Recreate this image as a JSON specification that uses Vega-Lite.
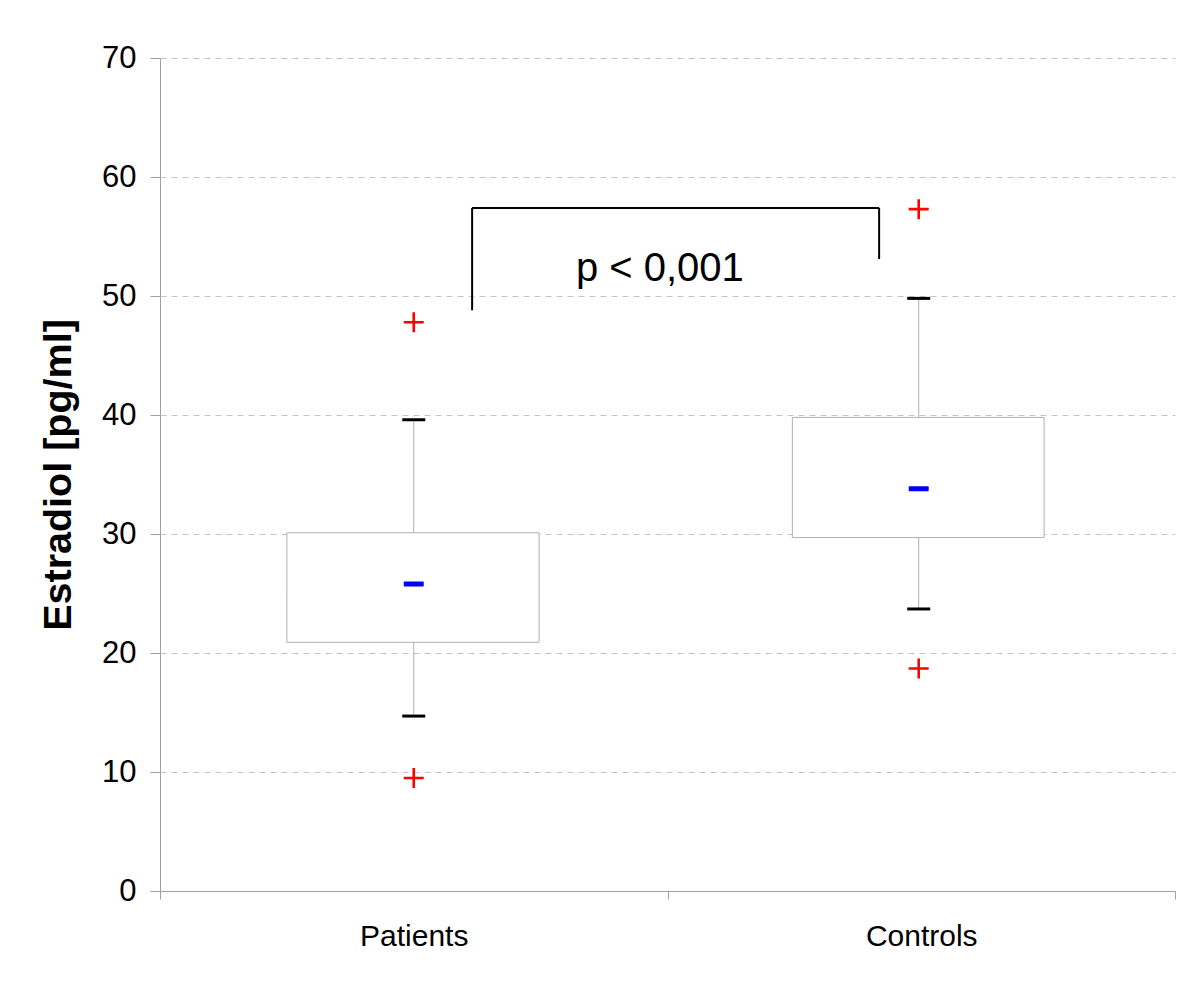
{
  "$schema": "https://vega.github.io/schema/vega-lite/v6.json",
  "width": 1015,
  "height": 833,
  "autosize": {"type": "none"},
  "padding": {"left": 160, "top": 58, "right": 25, "bottom": 107},
  "background": "white",
  "config": {
    "view": {"stroke": null},
    "font": "Liberation Sans"
  },
  "datasets": {
    "boxes": [
      {"group": "Patients", "x": 0.5, "x0": 0.25, "x1": 0.747, "q1": 20.9, "q3": 30.1, "median": 25.8, "lo": 14.7, "hi": 39.6},
      {"group": "Controls", "x": 1.495, "x0": 1.246, "x1": 1.742, "q1": 29.7, "q3": 39.8, "median": 33.8, "lo": 23.7, "hi": 49.8}
    ],
    "outliers": [
      {"group": "Patients", "x": 0.5, "y": 47.8},
      {"group": "Patients", "x": 0.5, "y": 9.5},
      {"group": "Controls", "x": 1.495, "y": 57.3},
      {"group": "Controls", "x": 1.495, "y": 18.7}
    ],
    "bracket": [
      {"x": 0.615, "x2": 0.615, "y": 48.8, "y2": 57.4},
      {"x": 0.615, "x2": 1.417, "y": 57.4, "y2": 57.4},
      {"x": 1.417, "x2": 1.417, "y": 53.1, "y2": 57.4}
    ],
    "label": [
      {"x": 0.985, "y": 51.3, "text": "p < 0,001"}
    ]
  },
  "layer": [
    {
      "data": {"name": "boxes"},
      "mark": {"type": "rule", "color": "#b0b0b0", "strokeWidth": 1},
      "encoding": {
        "x": {
          "field": "x", "type": "quantitative",
          "scale": {"domain": [0, 2], "nice": false, "zero": false},
          "axis": {
            "values": [0, 0.5, 1, 1.5, 2],
            "labelExpr": "datum.value == 0.5 ? 'Patients' : (datum.value == 1.5 ? 'Controls' : '')",
            "title": null,
            "grid": false,
            "domainColor": "#a0a0a0",
            "domainWidth": 1,
            "tickColor": "#a0a0a0",
            "tickSize": 8,
            "tickOpacity": {"condition": {"test": "datum.value == 0.5 || datum.value == 1.5", "value": 0}, "value": 1},
            "labelFontSize": 30,
            "labelColor": "black",
            "labelFont": "Liberation Sans",
            "labelPadding": 22,
            "labelFlush": false,
            "labelOverlap": false
          }
        },
        "y": {
          "field": "lo", "type": "quantitative",
          "scale": {"domain": [0, 70], "nice": false},
          "axis": {
            "values": [0, 10, 20, 30, 40, 50, 60, 70],
            "title": "Estradiol [pg/ml]",
            "titleFontSize": 39.5,
            "titleFontWeight": "bold",
            "titleFont": "Liberation Sans",
            "titleColor": "black",
            "titlePadding": 23,
            "grid": true,
            "gridColor": "#c4c4c4",
            "gridDash": [6, 5],
            "gridWidth": 1,
            "domainColor": "#a0a0a0",
            "tickColor": "#a0a0a0",
            "tickSize": 10,
            "labelFontSize": 31,
            "labelColor": "black",
            "labelFont": "Liberation Sans",
            "labelPadding": 14
          }
        },
        "y2": {"field": "hi"}
      }
    },
    {
      "data": {"name": "boxes"},
      "mark": {"type": "rect", "fill": "white", "stroke": "#b0b0b0", "strokeWidth": 1},
      "encoding": {
        "x": {"field": "x0", "type": "quantitative"},
        "x2": {"field": "x1"},
        "y": {"field": "q1", "type": "quantitative"},
        "y2": {"field": "q3"}
      }
    },
    {
      "data": {"name": "boxes"},
      "mark": {"type": "tick", "orient": "horizontal", "color": "black", "size": 23, "thickness": 3, "opacity": 1},
      "encoding": {
        "x": {"field": "x", "type": "quantitative"},
        "y": {"field": "hi", "type": "quantitative"}
      }
    },
    {
      "data": {"name": "boxes"},
      "mark": {"type": "tick", "orient": "horizontal", "color": "black", "size": 23, "thickness": 3, "opacity": 1},
      "encoding": {
        "x": {"field": "x", "type": "quantitative"},
        "y": {"field": "lo", "type": "quantitative"}
      }
    },
    {
      "data": {"name": "boxes"},
      "mark": {"type": "tick", "orient": "horizontal", "color": "#0000ff", "size": 20, "thickness": 5, "opacity": 1, "cornerRadius": 1},
      "encoding": {
        "x": {"field": "x", "type": "quantitative"},
        "y": {"field": "median", "type": "quantitative"}
      }
    },
    {
      "data": {"name": "outliers"},
      "mark": {"type": "point", "shape": "M-1,0L1,0M0,-1L0,1", "filled": false, "stroke": "#ff0000", "strokeWidth": 2.6, "size": 400, "opacity": 1},
      "encoding": {
        "x": {"field": "x", "type": "quantitative"},
        "y": {"field": "y", "type": "quantitative"}
      }
    },
    {
      "data": {"name": "bracket"},
      "mark": {"type": "rule", "color": "black", "strokeWidth": 2},
      "encoding": {
        "x": {"field": "x", "type": "quantitative"},
        "x2": {"field": "x2"},
        "y": {"field": "y", "type": "quantitative"},
        "y2": {"field": "y2"}
      }
    },
    {
      "data": {"name": "label"},
      "mark": {"type": "text", "fontSize": 40, "font": "Liberation Sans", "color": "black", "align": "center", "baseline": "alphabetic"},
      "encoding": {
        "x": {"field": "x", "type": "quantitative"},
        "y": {"field": "y", "type": "quantitative"},
        "text": {"field": "text"}
      }
    }
  ]
}
